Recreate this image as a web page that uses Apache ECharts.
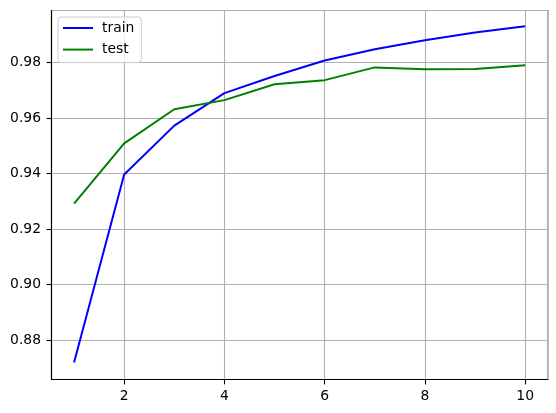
<!DOCTYPE html>
<html>
<head>
<meta charset="utf-8">
<script src="https://cdn.jsdelivr.net/npm/echarts@6/dist/echarts.min.js"></script>
<style>
html,body{margin:0;padding:0;background:#fff;}
#chart{width:556px;height:413px;}
</style>
</head>
<body>
<div id="chart"></div>
<script>
const epochs = [1, 2, 3, 4, 5, 6, 7, 8, 9, 10];
const trainAcc = [0.8719, 0.9397, 0.9573, 0.9690, 0.9752, 0.9808, 0.9848, 0.9881, 0.9909, 0.9931];
const testAcc = [0.9292, 0.9509, 0.9632, 0.9665, 0.9722, 0.9737, 0.9783, 0.9776, 0.9777, 0.9791];
const seriesNames = ['train', 'test'];

const font = 'DejaVu Sans';
const chart = echarts.init(document.getElementById('chart'), null, {renderer: 'canvas'});
const pairs = (ys) => epochs.map((x, i) => [x, ys[i]]);

chart.setOption({
  animation: false,
  backgroundColor: '#ffffff',
  grid: {left: 51.5, top: 10.5, right: 8.3, bottom: 33.5, show: true, borderColor: '#000', borderWidth: 1.1, backgroundColor: 'transparent', containLabel: false},
  legend: {
    orient: 'vertical', left: 58, top: 17,
    itemWidth: 30, itemHeight: 14, itemGap: 7.6,
    padding: [4, 7, 6, 4],
    borderColor: '#cccccc', borderWidth: 1, borderRadius: 3,
    backgroundColor: 'rgba(255,255,255,0.8)',
    itemStyle: {opacity: 0},
    textStyle: {fontFamily: font, fontSize: 13.9, color: '#000', padding: [0, 0, 0, 4]},
    data: seriesNames
  },
  xAxis: {
    type: 'value', min: 0.55, max: 10.45, splitNumber: 5,
    axisLine: {show: true, lineStyle: {color: '#000', width: 1.1}},
    axisTick: {show: true, length: 4.9, lineStyle: {color: '#000', width: 1.1}},
    axisLabel: {showMinLabel: false, showMaxLabel: false, fontFamily: font, fontSize: 13.9, color: '#000', margin: 9.5},
    splitLine: {show: true, lineStyle: {color: '#b0b0b0', width: 1.1}}
  },
  yAxis: {
    type: 'value', min: 0.8658, max: 0.9988, splitNumber: 6, scale: true,
    axisLine: {show: true, lineStyle: {color: '#000', width: 1.1}},
    axisTick: {show: true, length: 4.9, lineStyle: {color: '#000', width: 1.1}},
    axisLabel: {showMinLabel: false, showMaxLabel: false, fontFamily: font, fontSize: 13.9, color: '#000', margin: 10.5,
      formatter: v => v.toFixed(2)},
    splitLine: {show: true, lineStyle: {color: '#b0b0b0', width: 1.1}}
  },
  series: [
    {name: seriesNames[0], type: 'line', data: pairs(trainAcc), symbol: 'none', color: '#0000ff', lineStyle: {color: '#0000ff', width: 2}},
    {name: seriesNames[1], type: 'line', data: pairs(testAcc), symbol: 'none', color: '#008000', lineStyle: {color: '#008000', width: 2}}
  ]
});
</script>
</body>
</html>
